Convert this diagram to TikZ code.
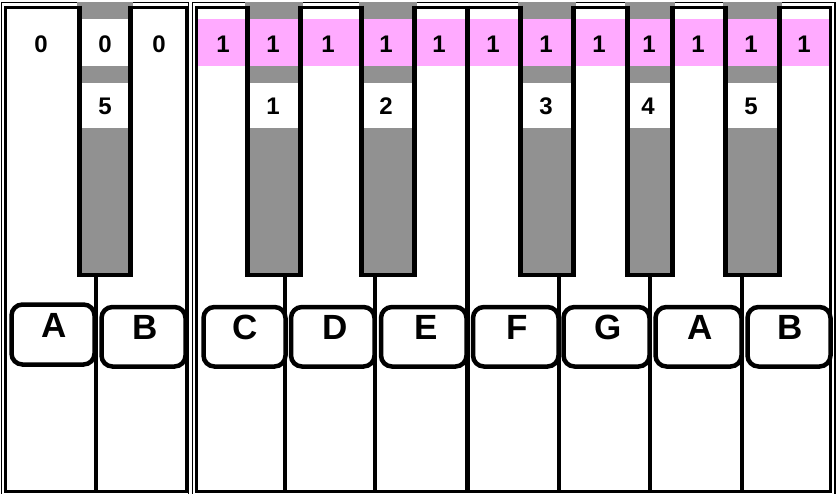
\documentclass[tikz,border=0pt]{standalone}
\usepackage{fontspec}
\setmainfont{Liberation Sans}
\definecolor{keygrey}{HTML}{919191}
\definecolor{bandpink}{HTML}{FFAAFF}
\begin{document}
\begin{tikzpicture}[x=1pt,y=-1pt,
  thinframe/.style={line width=1.3pt},
  thickframe/.style={line width=3pt},
  keyedge/.style={line width=4.6pt, line join=miter},
  divline/.style={line width=4.5pt},
  notebox/.style={draw, line width=4.5pt, rounded corners=11pt, fill=white, rectangle, inner sep=0pt},
  numlbl/.style={font=\fontsize{24}{28}\selectfont\bfseries, anchor=base, inner sep=0pt},
  letlbl/.style={font=\fontsize{35}{40}\selectfont\bfseries, anchor=base, inner sep=0pt}]
\useasboundingbox (0,0) rectangle (838,493);
% frames
\draw[thinframe] (1.2,2.2) rectangle (188.8,497);
\draw[thickframe] (5.2,7) rectangle (186,491);
\draw[thinframe] (192.3,2.7) rectangle (835,497);
\draw[thickframe] (196.5,7) rectangle (830.5,491);
% grey black keys
\foreach \xa/\xb in {77/133,245/303,359/417,518/576,625/675,723/782}
  \fill[keygrey] (\xa,2.3) rectangle (\xb,277.3);
% pink band
\fill[bandpink] (198,19) rectangle (828.8,66);
% white windows
\fill[white] (77,19) rectangle (133,66);
\foreach \xa/\xb in {77/133,245/303,359/417,518/576,625/675,723/782}
  \fill[white] (\xa,83) rectangle (\xb,128);
% key borders
\foreach \xa/\xb in {77/133,245/303,359/417,518/576,625/675,723/782}
  \draw[keyedge] ({\xa+2.3},5.5) -- ({\xa+2.3},275) -- ({\xb-2.3},275) -- ({\xb-2.3},5.5);
% dividers
\foreach \x in {96,285,375,559,650,742}
  \draw[divline] (\x,275) -- (\x,491);
\draw[divline] (467.5,5.5) -- (467.5,491);
% note boxes
\node[notebox, minimum width=83pt, minimum height=60pt] (bA1) at (53,334.5) {};
\node[notebox, minimum width=84pt, minimum height=59.5pt] (bB1) at (143.5,336.75) {};
\node[notebox, minimum width=82pt, minimum height=59.5pt] (bC) at (244.5,336.75) {};
\node[notebox, minimum width=83.5pt, minimum height=59.5pt] (bD) at (332.75,336.75) {};
\node[notebox, minimum width=85.5pt, minimum height=59.5pt] (bE) at (423.75,336.75) {};
\node[notebox, minimum width=85.5pt, minimum height=59.5pt] (bF) at (515.75,336.75) {};
\node[notebox, minimum width=86pt, minimum height=59.5pt] (bG) at (606.5,336.75) {};
\node[notebox, minimum width=86pt, minimum height=59.5pt] (bA2) at (698.5,336.75) {};
\node[notebox, minimum width=83pt, minimum height=59.5pt] (bB2) at (789,336.75) {};
% letters
\node[letlbl] (lA1) at (54,337.5) {A};
\node[letlbl] (lB1) at (145,339.5) {B};
\node[letlbl] (lC) at (245.5,339.5) {C};
\node[letlbl] (lD) at (335,339.5) {D};
\node[letlbl] (lE) at (426,339.5) {E};
\node[letlbl] (lF) at (517,339.5) {F};
\node[letlbl] (lG) at (608,339.5) {G};
\node[letlbl] (lA2) at (700,339.5) {A};
\node[letlbl] (lB2) at (790,339.5) {B};
% row 1 digits
\node[numlbl] (z1) at (41,52.5) {0};
\node[numlbl] (z2) at (105,52.5) {0};
\node[numlbl] (z3) at (159,52.5) {0};
\foreach \x [count=\i] in {223,273,328,386,439,493,546,599,649,698,751,804}
  \node[numlbl] (o\i) at (\x,52.5) {1};
% row 2 digits
\node[numlbl] (r0) at (105,114.5) {5};
\node[numlbl] (r1) at (273,114.5) {1};
\node[numlbl] (r2) at (386,114.5) {2};
\node[numlbl] (r3) at (546,114.5) {3};
\node[numlbl] (r4) at (648,114.5) {4};
\node[numlbl] (r5) at (751,114.5) {5};
\end{tikzpicture}
\end{document}
